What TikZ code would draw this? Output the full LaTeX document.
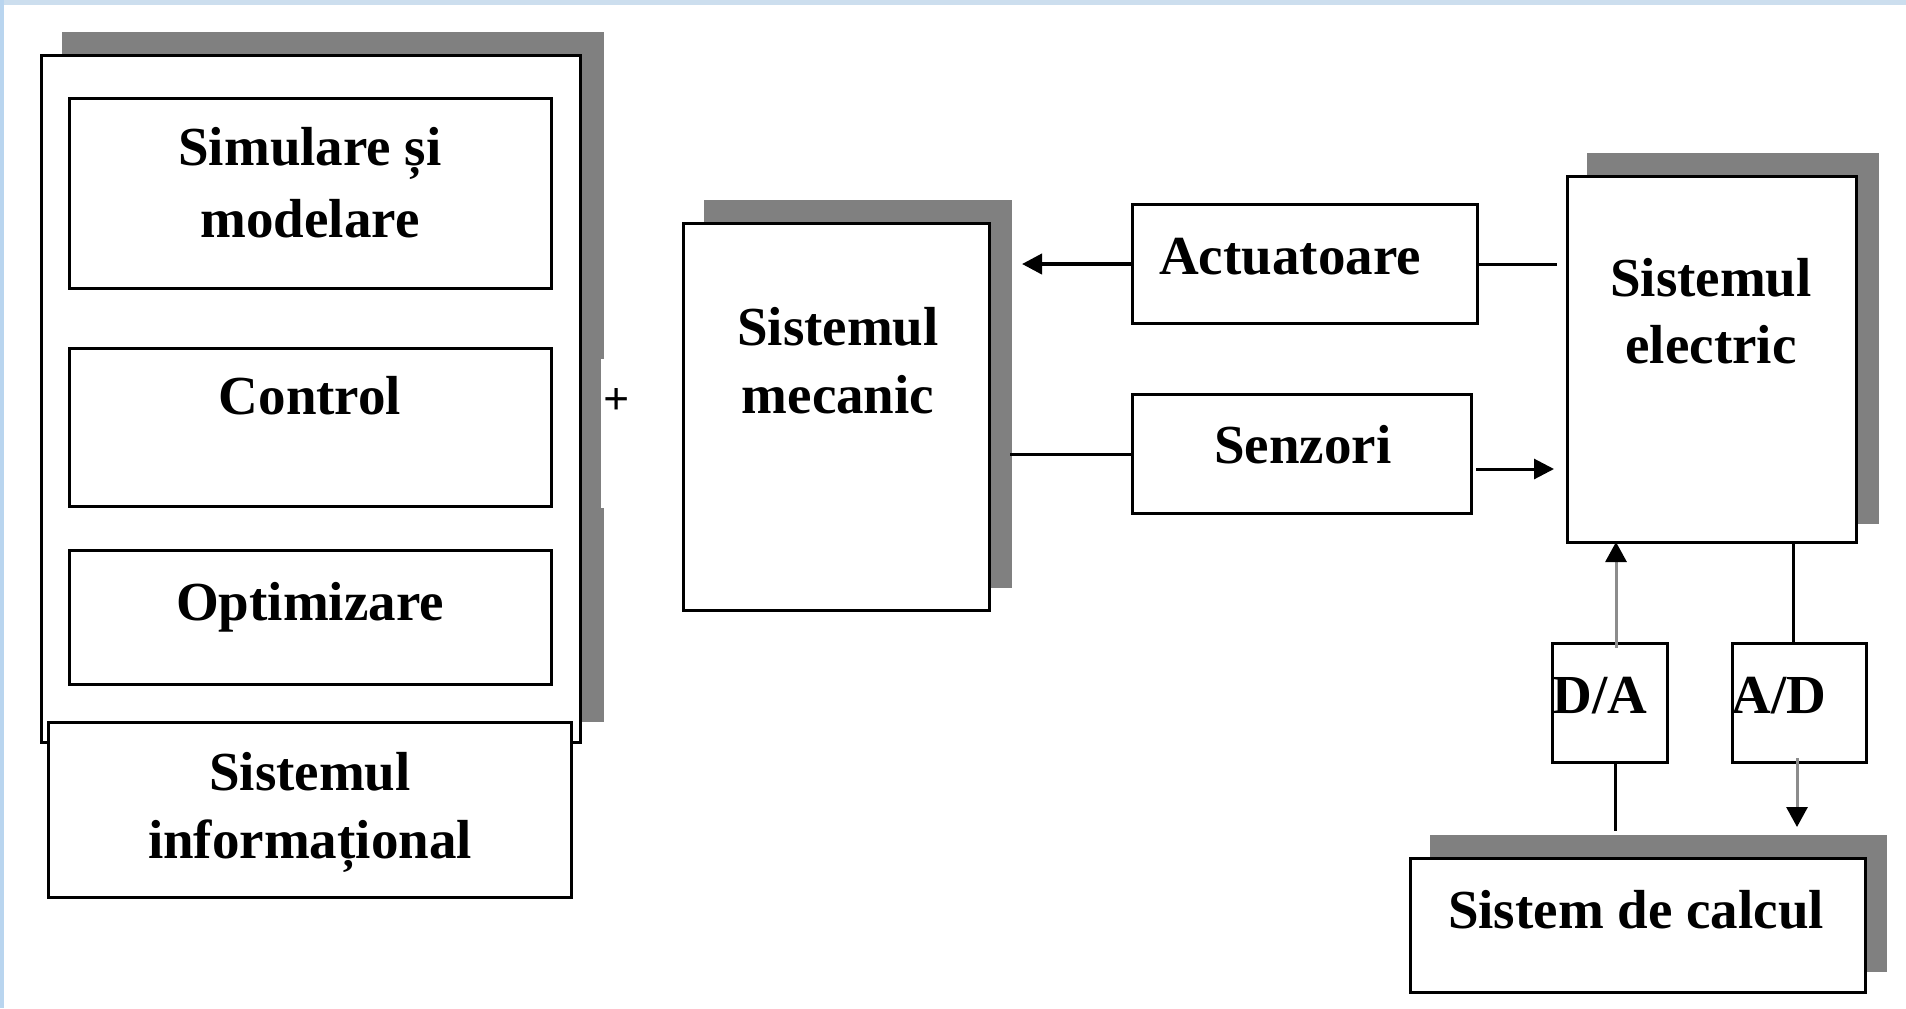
\documentclass[tikz,border=0pt]{standalone}
\usepackage{fontspec}
\setmainfont{Liberation Serif}
\usetikzlibrary{arrows.meta,fit}
\definecolor{shadowgray}{HTML}{808080}
\definecolor{frameblue}{HTML}{CCDEEE}
\definecolor{frameblueL}{HTML}{B9D5EF}
\definecolor{wiregray}{HTML}{8C8C8C}

\begin{document}
\begin{tikzpicture}[x=0.5pt,y=-0.5pt,
  box/.style={draw=black, line width=1.5pt, fill=white, inner sep=0pt, outer sep=0pt},
  shade/.style={fill=shadowgray, draw=none, inner sep=0pt, outer sep=0pt},
  lbl/.style={anchor=base, inner sep=0pt, font=\bfseries\fontsize{27.5pt}{33pt}\selectfont},
  ln/.style={line width=1.5pt},
  arr/.style={line width=1.5pt, -{Triangle[length=10pt,width=10pt]}},
  garr/.style={line width=1.5pt, draw=wiregray, -{Triangle[length=10pt,width=10.5pt,color=black]}}
]
% page and frame strips
\fill[white] (0,0) rectangle (1906,1008);
\fill[frameblue] (0,0) rectangle (1906,5);
\fill[frameblueL] (0,0) rectangle (4,1008);
\useasboundingbox (0,0) rectangle (1906,1008);

% ---- information system block
\node[shade, fit={(62,32) (604,722)}] (infoSh) {};
\node[box, fit={(41,55) (580,742)}] (infoOuter) {};
\fill[white] (601,359) rectangle (606,508);
\node[box, fit={(69,98) (551,288)}] (sim) {};
\node[box, fit={(69,348) (551,506)}] (ctrl) {};
\node[box, fit={(69,550) (551,684)}] (opt) {};
\node[box, fit={(48,722) (571,897)}] (info) {};
\node[lbl] (simA) at (310,165) {Simulare și};
\node[lbl] (simB) at (310,237) {modelare};
\node[lbl] (ctrlT) at (310,414) {Control};
\node[lbl] (optT) at (310,620) {Optimizare};
\node[lbl] (infoA) at (310,790) {Sistemul};
\node[lbl] (infoB) at (310,858) {informațional};
\node[inner sep=0pt, font=\bfseries\fontsize{23pt}{25pt}\selectfont] (plus) at (617,401) {+};

% ---- mechanical system
\node[shade, fit={(704,200) (1012,588)}] (mecSh) {};
\node[box, fit={(683,223) (989,610)}] (mec) {};
\node[lbl] (mecA) at (838,345) {Sistemul};
\node[lbl] (mecB) at (838,413) {mecanic};

% ---- actuators and sensors
\node[box, fit={(1132,204) (1477,323)}] (act) {};
\node[lbl] (actT) at (1290,274) {Actuatoare};
\node[box, fit={(1132,394) (1471,513)}] (senz) {};
\node[lbl] (senzT) at (1303,463) {Senzori};

% ---- electrical system
\node[shade, fit={(1587,153) (1879,524)}] (elecSh) {};
\node[box, fit={(1567,176) (1856,542)}] (elec) {};
\node[lbl] (elecA) at (1711,296) {Sistemul};
\node[lbl] (elecB) at (1711,363) {electric};

% ---- converters
\node[box, fit={(1552,643) (1667,762)}] (da) {};
\node[lbl] (daT) at (1600,713) {D/A};
\node[box, fit={(1732,643) (1866,762)}] (ad) {};
\node[lbl] (adT) at (1779,713) {A/D};

% ---- computing system
\node[shade, fit={(1430,835) (1887,972)}] (calcSh) {};
\node[box, fit={(1410,858) (1865,992)}] (calc) {};
\node[lbl] (calcT) at (1636,928) {Sistem de calcul};

% ---- connectors
\coordinate (actTip) at (1022,264);
\coordinate (actEnd) at (1557,264);
\coordinate (senzStart) at (1010,454);
\coordinate (senzTip) at (1554,469);
\coordinate (daX) at (1616,0);
\coordinate (daEnd) at (1615,831);
\coordinate (adX) at (1793,0);
\coordinate (adTop) at (1797,758);
\coordinate (adTip) at (1797,827);

\draw[arr, line width=2pt] (act.west |- actTip) -- (actTip);
\draw[ln] (act.east |- actEnd) -- (actEnd);
\draw[ln] (senzStart) -- (senz.west |- senzStart);
\draw[arr, shorten <=2.5pt] (senz.east |- senzTip) -- (senzTip);
\draw[garr] ([yshift=-2.5pt]da.north -| daX) -- (elec.south -| daX);
\draw[ln] (da.south -| daEnd) -- (daEnd);
\draw[ln] (elec.south -| adX) -- (ad.north -| adX);
\draw[garr] (adTop) -- (adTip);
\end{tikzpicture}
\end{document}
